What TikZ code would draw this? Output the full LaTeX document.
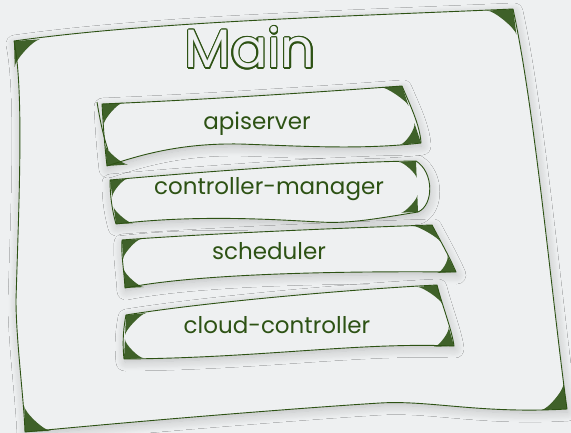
\documentclass[tikz,border=0pt]{standalone}
\usepackage{xcolor}
\usepackage{fontspec}
\setmainfont{Poppins}
\usepackage[copies]{contour}
\usepackage{tikz}
\usetikzlibrary{calc, shadows.blur}
\definecolor{ink}{RGB}{45,82,20}
\definecolor{paper}{RGB}{238,240,241}
\tikzstyle{sketch} = [draw=ink, line width=0.9pt, line join=round, fill=paper, blur shadow={shadow blur steps=12, shadow blur radius=9pt, shadow xshift=1pt, shadow yshift=-3pt, shadow opacity=20}]
\tikzstyle{boxtext} = [text=ink, anchor=base, inner sep=0pt, font=\fontsize{23}{23}\selectfont]
\tikzstyle{title} = [anchor=base, inner sep=0pt, font=\fontsize{54}{54}\selectfont]
\newcommand{\fan}[4]{%
  \coordinate (f1) at ($(#1)!#4!(#2)$);
  \coordinate (f2) at ($(#1)!#4!(#3)$);
  \fill[ink, fill opacity=0.9] (#1) -- (f1) .. controls ($(#1)!0.75!(f1)$) and ($(#1)!0.75!(f2)$) .. (f2) -- cycle;}
\contourlength{1.3pt}

\begin{document}
\begin{tikzpicture}[x=1pt, y=-1pt]
\fill[paper] (0,0) rectangle (571,433);
\useasboundingbox (0,0) rectangle (571,433);

\coordinate (out-nw) at (14,41);  \coordinate (out-ne) at (513,9);
\coordinate (out-se) at (567,409); \coordinate (out-sw) at (25,432);
\coordinate (api-nw) at (102,104); \coordinate (api-ne) at (402,86);
\coordinate (api-se) at (421,143); \coordinate (api-sw) at (107,166);
\coordinate (ctl-nw) at (110,180); \coordinate (ctl-ne) at (416,161);
\coordinate (ctl-se) at (418,212); \coordinate (ctl-sw) at (116,224);
\coordinate (sch-nw) at (122,240); \coordinate (sch-ne) at (432,225);
\coordinate (sch-se) at (456,272); \coordinate (sch-sw) at (125,288);
\coordinate (cld-nw) at (126,315); \coordinate (cld-ne) at (437,285);
\coordinate (cld-se) at (454,346); \coordinate (cld-sw) at (124,359);

\path[sketch] (out-nw) .. controls (150,22) and (330,17) .. (out-ne)
  .. controls (535,110) and (552,300) .. (out-se)
  .. controls (480,414) and (430,400) .. (380,403)
  .. controls (300,408) and (150,420) .. (out-sw)
  .. controls (24,400) and (16,340) .. (16,300)
  .. controls (19,200) and (24,90) .. (out-nw) -- cycle;

\path[sketch] (api-nw) .. controls (200,100) and (320,92) .. (api-ne)
  .. controls (410,105) and (420,125) .. (api-se)
  .. controls (360,150) and (300,146) .. (240,144)
  .. controls (180,143) and (140,155) .. (api-sw)
  .. controls (104,140) and (103,120) .. (api-nw) -- cycle;
\draw[ink, line width=0.9pt] (97,102) .. controls (100,120) and (103,135) .. (108,150);

\path[sketch] (ctl-nw) .. controls (200,172) and (330,162) .. (ctl-ne)
  .. controls (434,172) and (434,205) .. (ctl-se)
  .. controls (380,218) and (350,224) .. (320,222)
  .. controls (280,220) and (200,214) .. (ctl-sw)
  .. controls (112,210) and (110,195) .. (ctl-nw) -- cycle;

\path[sketch] (sch-nw) .. controls (200,234) and (340,228) .. (sch-ne)
  .. controls (440,240) and (450,258) .. (sch-se)
  .. controls (350,271) and (200,273) .. (sch-sw)
  .. controls (124,270) and (121,255) .. (sch-nw) -- cycle;

\path[sketch] (cld-nw) .. controls (200,303) and (340,290) .. (cld-ne)
  .. controls (442,305) and (452,330) .. (cld-se)
  .. controls (360,342) and (260,358) .. (cld-sw)
  .. controls (122,340) and (124,325) .. (cld-nw) -- cycle;

\foreach \b/\s in {out/26pt, api/21pt, ctl/17pt, sch/19pt, cld/20pt} {
  \fan{\b-nw}{\b-ne}{\b-sw}{\s}
  \fan{\b-ne}{\b-nw}{\b-se}{\s}
  \fan{\b-se}{\b-ne}{\b-sw}{\s}
  \fan{\b-sw}{\b-se}{\b-nw}{\s}
}

\node[title] (main) at (250,68) {\contour{ink}{\textcolor{paper}{Main}}};
\node[boxtext] (apiserver) at (257,130) {apiserver};
\node[boxtext] (ctlmanager) at (269,195) {controller-manager};
\node[boxtext] (scheduler) at (269,260) {scheduler};
\node[boxtext] (cloudctl) at (277,333) {cloud-controller};
\end{tikzpicture}
\end{document}
